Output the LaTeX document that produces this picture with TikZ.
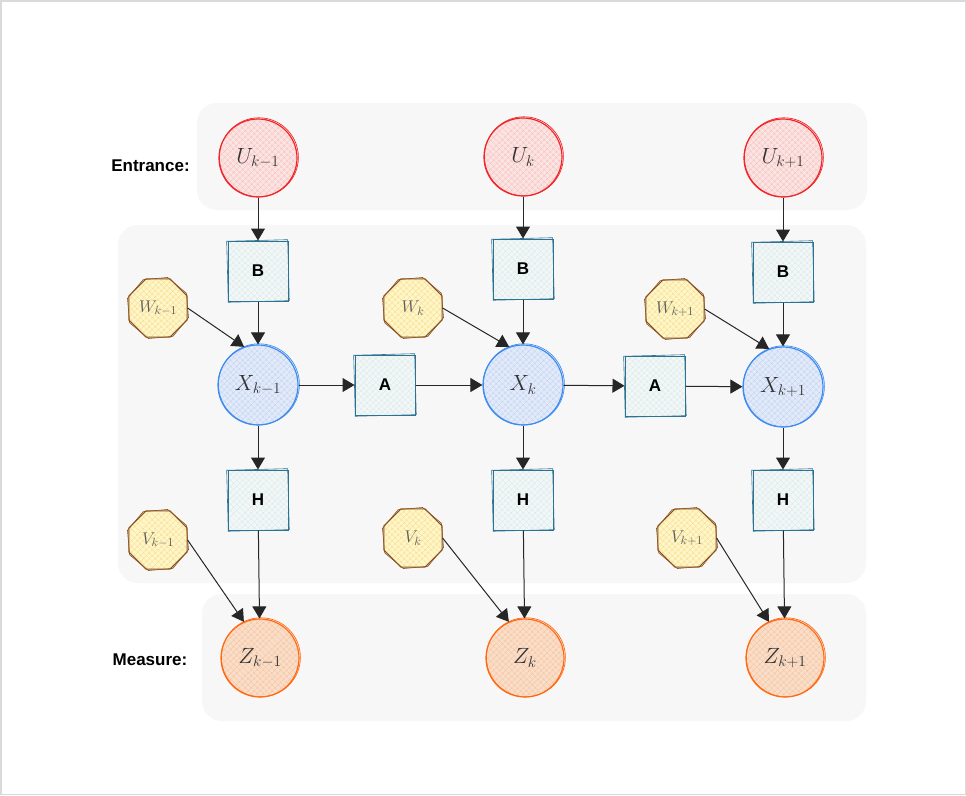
\RequirePackage{fix-cm}
\documentclass[tikz,border=0pt]{standalone}
\usepackage{fontspec}
\newfontfamily\lab{Liberation Sans}
\usetikzlibrary{arrows.meta,shapes.geometric,patterns.meta,calc}
\definecolor{ured}{HTML}{F0262A}
\definecolor{ufill}{HTML}{FBE3E1}
\definecolor{uhatch}{HTML}{F4BDBA}
\definecolor{xblue}{HTML}{3F8CF0}
\definecolor{xfill}{HTML}{E2EAF9}
\definecolor{xhatch}{HTML}{BDCFF0}
\definecolor{zor}{HTML}{FF6A13}
\definecolor{zfill}{HTML}{FADDC7}
\definecolor{zhatch}{HTML}{F2C09E}
\definecolor{wbr}{HTML}{8A5220}
\definecolor{wfill}{HTML}{FFF5C6}
\definecolor{whatch}{HTML}{F1DC88}
\definecolor{bline}{HTML}{2D7193}
\definecolor{bfill}{HTML}{F1F6F6}
\definecolor{bhatch}{HTML}{D8E7E7}
\definecolor{panel}{HTML}{F7F7F7}
\definecolor{frame}{HTML}{DADADA}
\definecolor{txt}{HTML}{333333}
\newcommand{\skcirc}[3]{\draw[#3, line width=0.7pt] ($(#1.center)+(0.9,-0.7)$) circle[radius=#2];}
\newcommand{\skbox}[2]{\draw[#2, line width=0.6pt, rotate around={1.5:(#1.center)}] ($(#1.center)+(-30.5,-30.5)$) rectangle ++(61,61);}
\newcommand{\skoct}[1]{\draw[wbr, line width=0.6pt, shift={(#1.center)}, rotate=5] (22.5:32) \foreach \a in {67.5,112.5,...,337.5} { -- (\a:32)} -- cycle;}
\begin{document}
\begin{tikzpicture}[x=1pt,y=-1pt,
  hatchfill/.style={pattern={Hatch[angle=45,distance=4pt,line width=0.4pt]}, pattern color=#1},
  ucirc/.style={circle, minimum size=78pt, inner sep=0pt, preaction={fill=ufill}, hatchfill=uhatch, draw=ured, line width=1.2pt, font=\fontsize{22}{26}\selectfont, text=txt},
  xcirc/.style={circle, minimum size=80pt, inner sep=0pt, preaction={fill=xfill}, hatchfill=xhatch, draw=xblue, line width=1.2pt, font=\fontsize{22}{26}\selectfont, text=txt},
  zcirc/.style={circle, minimum size=78pt, inner sep=0pt, preaction={fill=zfill}, hatchfill=zhatch, draw=zor, line width=1.2pt, font=\fontsize{22}{26}\selectfont, text=txt},
  mbox/.style={rectangle, minimum size=60pt, inner sep=0pt, preaction={fill=bfill}, hatchfill=bhatch, draw=bline, line width=1pt, font=\lab\bfseries\fontsize{17}{20}\selectfont, text=black},
  oct/.style={regular polygon, regular polygon sides=8, minimum size=63pt, inner sep=0pt, preaction={fill=wfill}, hatchfill=whatch, draw=wbr, line width=1pt, font=\fontsize{17}{20}\selectfont, text=txt!80},
  arr/.style={-{Triangle[length=12pt,width=14pt]}, line width=1pt, draw=black!85},
  lbl/.style={font=\lab\bfseries\fontsize{17}{20}\selectfont, text=black},
  panelbox/.style={fill=panel, draw=none, rounded corners=20pt}]
\useasboundingbox (0,0) rectangle (966,795);
\draw[frame, fill=white, line width=1.5pt] (0.75,0.75) rectangle (965.25,794.25);
% panels
\path[panelbox] (197,103) rectangle (867,210);
\path[panelbox] (118,225) rectangle (866,583);
\path[panelbox] (202,594) rectangle (866,721);
% labels
\node[lbl] (ent) at (150.5,166) {Entrance:};
\node[lbl] (mea) at (150,660) {Measure:};
% inputs
\node[ucirc] (U1) at (258,158) {$U_{k-1}$};
\node[ucirc] (U2) at (523,157) {$U_{k}$};
\node[ucirc] (U3) at (783,158) {$U_{k+1}$};
\skcirc{U1}{39.5}{ured}\skcirc{U2}{39.5}{ured}\skcirc{U3}{39.5}{ured}
% B boxes
\node[mbox] (B1) at (258,271) {B};
\node[mbox] (B2) at (523,269) {B};
\node[mbox] (B3) at (783,272) {B};
\skbox{B1}{bline}\skbox{B2}{bline}\skbox{B3}{bline}
% W noise
\node[oct] (W1) at (158,308) {$W_{k-1}$};
\node[oct] (W2) at (413,308) {$W_{k}$};
\node[oct] (W3) at (675,309) {$W_{k+1}$};
\skoct{W1}\skoct{W2}\skoct{W3}
% states
\node[xcirc] (X1) at (258,385) {$X_{k-1}$};
\node[xcirc] (X2) at (523,385) {$X_{k}$};
\node[xcirc] (X3) at (783,387) {$X_{k+1}$};
\skcirc{X1}{40.5}{xblue}\skcirc{X2}{40.5}{xblue}\skcirc{X3}{40.5}{xblue}
% A boxes
\node[mbox] (A1) at (385,385) {A};
\node[mbox] (A2) at (655,386) {A};
\skbox{A1}{bline}\skbox{A2}{bline}
% H boxes
\node[mbox] (H1) at (258,500) {H};
\node[mbox] (H2) at (523,500) {H};
\node[mbox] (H3) at (783,500) {H};
\skbox{H1}{bline}\skbox{H2}{bline}\skbox{H3}{bline}
% V noise
\node[oct] (V1) at (158,540) {$V_{k-1}$};
\node[oct] (V2) at (413,538) {$V_{k}$};
\node[oct] (V3) at (687,538) {$V_{k+1}$};
\skoct{V1}\skoct{V2}\skoct{V3}
% measurements
\node[zcirc] (Z1) at (260,658) {$Z_{k-1}$};
\node[zcirc] (Z2) at (525,658) {$Z_{k}$};
\node[zcirc] (Z3) at (785,658) {$Z_{k+1}$};
\skcirc{Z1}{39.5}{zor}\skcirc{Z2}{39.5}{zor}\skcirc{Z3}{39.5}{zor}
% connectors
\foreach \i in {1,2,3}{
  \draw[arr] (U\i) -- (B\i);
  \draw[arr] (B\i) -- (X\i);
  \draw[arr] (W\i.east) -- (X\i.110);
  \draw[arr] (X\i) -- (H\i);
  \draw[arr] (H\i) -- (Z\i);
  \draw[arr] (V\i.east) -- (Z\i.114);
}
\draw[arr] (X1) -- (A1);
\draw[arr] (A1) -- (X2);
\draw[arr] (X2) -- (A2);
\draw[arr] (A2) -- (X3);
\end{tikzpicture}
\end{document}
